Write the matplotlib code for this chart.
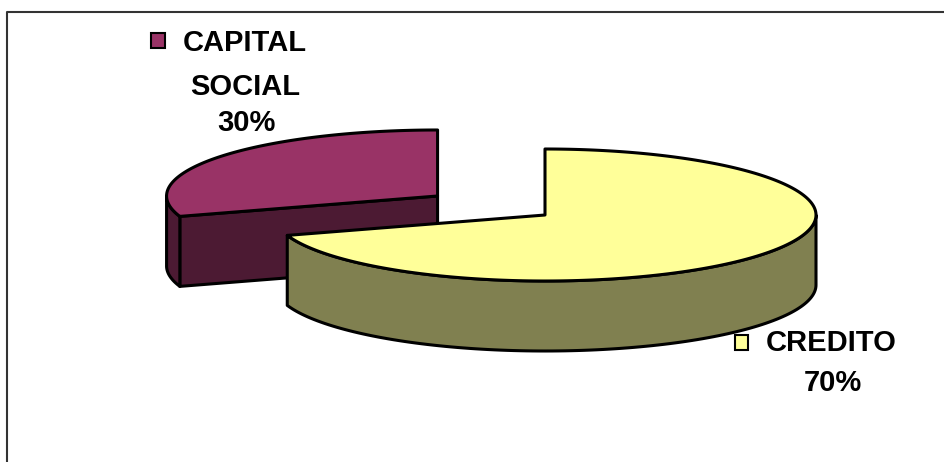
import numpy as np
import matplotlib
matplotlib.use("Agg")
import matplotlib.pyplot as plt
from matplotlib.patches import Polygon, Rectangle

# chart data
labels = ["CAPITAL\nSOCIAL", "CREDITO"]
values = [30, 70]
top_colors = ["#993366", "#FFFF99"]
side_colors = ["#4C1A33", "#808050"]
explode = [0.49, 0.0]

# pie geometry in pixel space
cx, cy = 545, 215
rx, ry = 271, 66
depth = 70


def rim(theta, x0, y0):
    return np.column_stack([x0 + rx * np.cos(theta), y0 - ry * np.sin(theta)])


def draw_slice(ax, a0, a1, x0, y0, top, side):
    # a0 < a1, math angles in radians
    kw = dict(edgecolor="black", linewidth=2.2, joinstyle="round")
    # radial faces, only the ones turned to the viewer
    for a, normal in ((a0, a0 - np.pi / 2), (a1, a1 + np.pi / 2)):
        if np.sin(normal) < 0:
            p = rim(np.array([a]), x0, y0)[0]
            face = [(x0, y0), tuple(p), (p[0], p[1] + depth), (x0, y0 + depth)]
            ax.add_patch(Polygon(face, closed=True, facecolor=side, **kw))
    # outer curved side, front part only (sin < 0)
    for k in range(-1, 2):
        lo = max(a0, np.pi + 2 * np.pi * k)
        hi = min(a1, 2 * np.pi + 2 * np.pi * k)
        if hi > lo:
            t = np.linspace(lo, hi, 120)
            up = rim(t, x0, y0)
            dn = up[::-1] + [0, depth]
            ax.add_patch(Polygon(np.vstack([up, dn]), closed=True, facecolor=side, **kw))
    # top face
    t = np.linspace(a0, a1, 240)
    pts = np.vstack([[x0, y0], rim(t, x0, y0)])
    ax.add_patch(Polygon(pts, closed=True, facecolor=top, **kw))


fig = plt.figure(figsize=(9.44, 4.62), dpi=100)
ax = fig.add_axes([0, 0, 1, 1])
ax.set_xlim(0, 944)
ax.set_ylim(462, 0)
ax.axis("off")

# frame
ax.plot([7, 7, 944], [462, 12, 12], color="#333333", linewidth=1.5)

# capital goes counter-clockwise from 12 o'clock, credito clockwise
total = sum(values)
span = [v / total * 2 * np.pi for v in values]
cap = (np.pi / 2, np.pi / 2 + span[0])
cred = (np.pi / 2 + span[0] - 2 * np.pi, np.pi / 2)
slices = [cap, cred]

for i, (a0, a1) in enumerate(slices):
    mid = (a0 + a1) / 2
    x0 = cx + explode[i] * rx * np.cos(mid)
    y0 = cy - explode[i] * ry * np.sin(mid)
    draw_slice(ax, a0, a1, x0, y0, top_colors[i], side_colors[i])

# labels
font = dict(family="Liberation Sans", fontweight="bold", fontsize=21, color="black")
pct = [f"{round(v / total * 100)}%" for v in values]
cap_lines = labels[0].split("\n")

ax.add_patch(Rectangle((151, 33), 14, 15, facecolor=top_colors[0], edgecolor="black", linewidth=1.5))
ax.text(245, 43, cap_lines[0], ha="center", va="center", **font)
ax.text(245, 87, cap_lines[1], ha="center", va="center", **font)
ax.text(246, 123, pct[0], ha="center", va="center", **font)

ax.add_patch(Rectangle((735, 335), 13, 15, facecolor=top_colors[1], edgecolor="black", linewidth=1.5))
ax.text(831, 343, labels[1], ha="center", va="center", **font)
ax.text(833, 383, pct[1], ha="center", va="center", **font)

fig.savefig("out.png", dpi=100)
